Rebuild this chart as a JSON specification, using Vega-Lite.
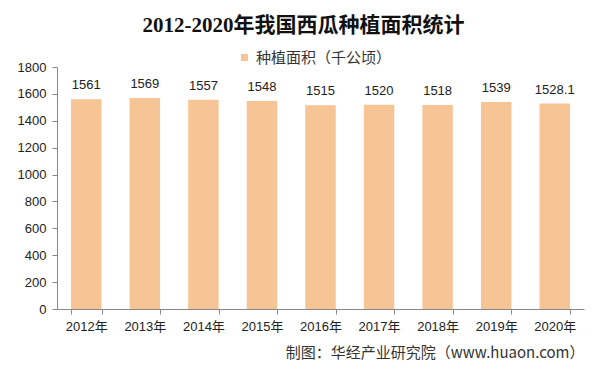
{
  "$schema": "https://vega.github.io/schema/vega-lite/v6.json",
  "width": 527,
  "height": 242,
  "autosize": {"type": "none"},
  "padding": {"left": 57, "top": 67, "right": 16, "bottom": 66},
  "background": "white",
  "title": {
    "text": "2012-2020年我国西瓜种植面积统计",
    "font": "Liberation Serif, Noto Sans CJK SC",
    "fontSize": 21,
    "fontWeight": "bold",
    "color": "#111111",
    "anchor": "middle",
    "frame": "group",
    "offset": 14,
    "dx": -17
  },
  "data": {
    "values": [
      {"year": "2012年", "area": 1561, "label": "1561", "series": "种植面积（千公顷）"},
      {"year": "2013年", "area": 1569, "label": "1569", "series": "种植面积（千公顷）"},
      {"year": "2014年", "area": 1557, "label": "1557", "series": "种植面积（千公顷）"},
      {"year": "2015年", "area": 1548, "label": "1548", "series": "种植面积（千公顷）"},
      {"year": "2016年", "area": 1515, "label": "1515", "series": "种植面积（千公顷）"},
      {"year": "2017年", "area": 1520, "label": "1520", "series": "种植面积（千公顷）"},
      {"year": "2018年", "area": 1518, "label": "1518", "series": "种植面积（千公顷）"},
      {"year": "2019年", "area": 1539, "label": "1539", "series": "种植面积（千公顷）"},
      {"year": "2020年", "area": 1528.1, "label": "1528.1", "series": "种植面积（千公顷）"}
    ]
  },
  "encoding": {
    "x": {
      "field": "year",
      "type": "nominal",
      "sort": null,
      "scale": {"paddingInner": 0.48, "paddingOuter": 0.24},
      "axis": {
        "title": "制图：华经产业研究院（www.huaon.com）",
        "titleAnchor": "end",
        "titleFont": "Noto Sans CJK SC",
        "titleFontSize": 15,
        "titleFontWeight": "normal",
        "titleColor": "#333333",
        "titlePadding": 12,
        "labelAngle": 0,
        "labelFont": "Liberation Sans, Noto Sans CJK SC",
        "labelFontSize": 13,
        "labelColor": "#222222",
        "labelPadding": 6,
        "domainColor": "#888888",
        "tickColor": "#888888",
        "tickBand": "extent",
        "tickSize": 5
      }
    },
    "y": {
      "field": "area",
      "type": "quantitative",
      "scale": {"domain": [0, 1800]},
      "axis": {
        "title": null,
        "values": [0, 200, 400, 600, 800, 1000, 1200, 1400, 1600, 1800],
        "format": "d",
        "grid": false,
        "labelFont": "Liberation Sans",
        "labelFontSize": 13,
        "labelColor": "#222222",
        "labelPadding": 6,
        "domainColor": "#888888",
        "tickColor": "#888888",
        "tickSize": 5
      }
    }
  },
  "layer": [
    {
      "mark": {"type": "bar", "color": "#F7C496"},
      "encoding": {
        "color": {
          "field": "series",
          "type": "nominal",
          "scale": {"range": ["#F7C496"]},
          "legend": {
            "title": null,
            "orient": "none",
            "legendX": 180,
            "legendY": -17,
            "symbolType": "square",
            "symbolSize": 50,
            "labelFont": "Noto Sans CJK SC",
            "labelFontSize": 15,
            "labelColor": "#333333"
          }
        }
      }
    },
    {
      "mark": {"type": "text", "dy": -14, "font": "Liberation Sans", "fontSize": 13, "color": "#222222"},
      "encoding": {"text": {"field": "label"}}
    }
  ],
  "config": {"view": {"stroke": null}}
}
